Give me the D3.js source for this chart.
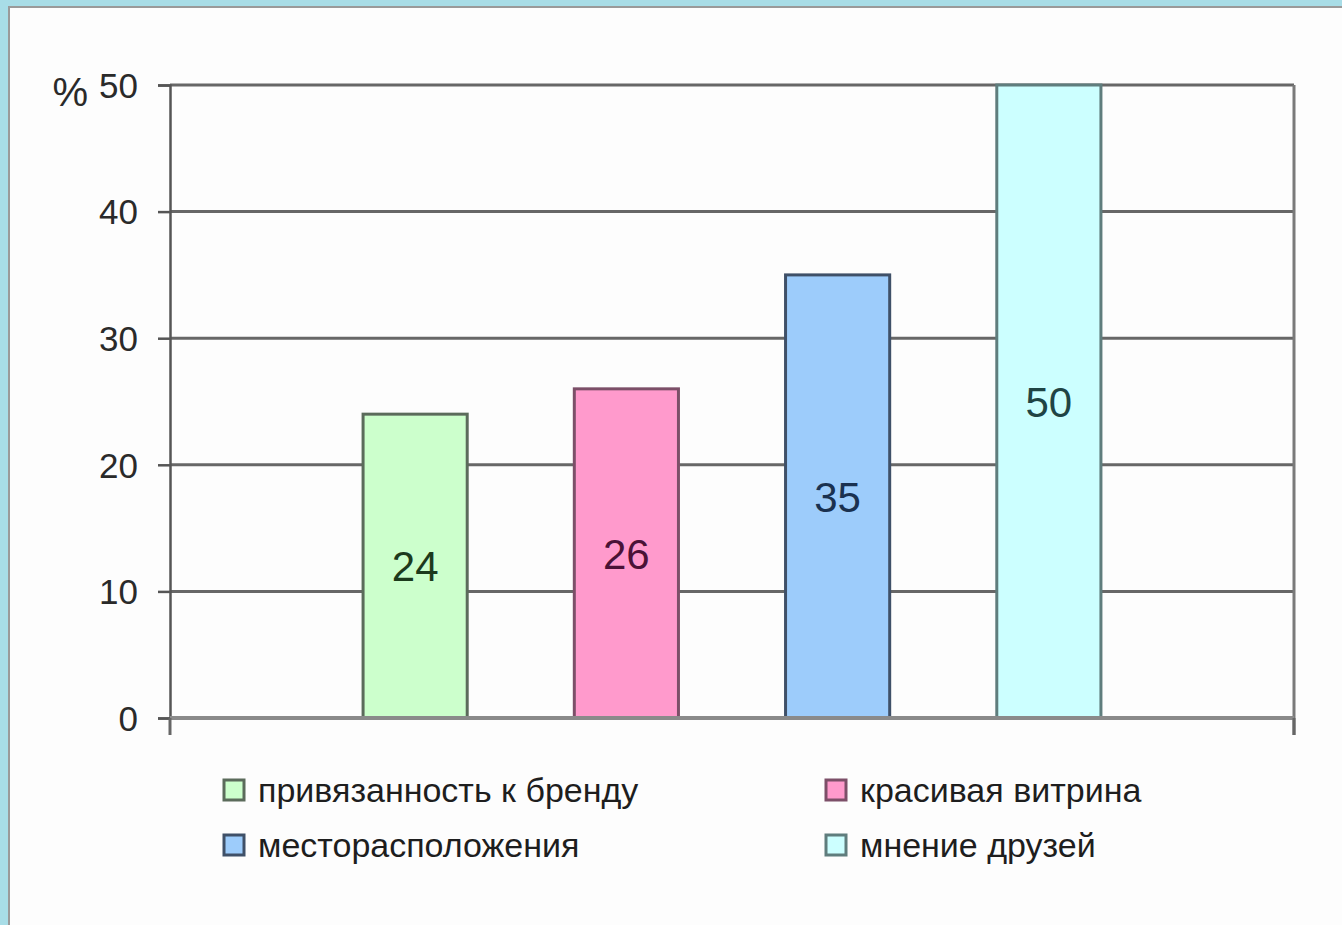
<!DOCTYPE html>
<html>
<head>
<meta charset="utf-8">
<script src="https://cdn.jsdelivr.net/npm/d3@7"></script>
<style>
  html, body { margin: 0; padding: 0; background: #a8dde7; }
  svg { display: block; }
</style>
</head>
<body>
<svg id="chart"></svg>
<script>
// values
const categories = ["привязанность к бренду", "красивая витрина", "месторасположения", "мнение друзей"];
const values = [24, 26, 35, 50];
const yTicks = [0, 10, 20, 30, 40, 50];
const yUnit = "%";

const fills = ["#ccffcc", "#ff9acc", "#9dccfb", "#ccffff"];
const strokes = ["#5b6b5b", "#7c4f68", "#3f5068", "#5f7d7d"];
const labelColors = ["#1c3a1c", "#4a1236", "#1a3150", "#1f4444"];

const W = 1342, H = 925;
const margin = {top: 85, right: 48, bottom: 207, left: 170};
const font = "Liberation Sans, Arial, sans-serif";

const svg = d3.select("#chart").attr("width", W).attr("height", H);

// blue frame + white panel
svg.append("rect").attr("width", W).attr("height", H).attr("fill", "#a8dde7");
svg.append("rect")
   .attr("x", 9).attr("y", 7)
   .attr("width", W).attr("height", H)
   .attr("fill", "#fdfdfd")
   .attr("stroke", "#9a9a9a").attr("stroke-width", 2);

const x0 = margin.left, x1 = W - margin.right;
const y = d3.scaleLinear([0, 50], [H - margin.bottom, margin.top]);
const x = d3.scaleBand(d3.range(categories.length), [x0, x1])
            .paddingInner(0.507).paddingOuter(0.914);

// gridlines
svg.append("g")
   .selectAll("line")
   .data(yTicks.filter(d => d > 0))
   .join("line")
     .attr("x1", x0).attr("x2", x1)
     .attr("y1", d => y(d)).attr("y2", d => y(d))
     .attr("stroke", "#676767").attr("stroke-width", 3);

// right frame line
svg.append("line")
   .attr("x1", x1).attr("x2", x1)
   .attr("y1", y(50)).attr("y2", y(0) + 17)
   .attr("stroke", "#7a7a7a").attr("stroke-width", 3);

// y axis
const yAxis = d3.axisLeft(y).tickValues(yTicks).tickSize(12).tickPadding(20).tickFormat(d3.format("d"));
svg.append("g")
   .attr("transform", `translate(${x0},0)`)
   .call(yAxis)
   .call(g => g.select(".domain").attr("stroke", "#555").attr("stroke-width", 2.5))
   .call(g => g.selectAll(".tick line").attr("stroke", "#555").attr("stroke-width", 2.5))
   .call(g => g.selectAll(".tick text")
               .attr("fill", "#2a2a2a")
               .attr("font-family", font)
               .attr("font-size", 35)
               .attr("dy", "0.35em"));

svg.append("text")
   .attr("x", 88).attr("y", y(50) + 21)
   .attr("text-anchor", "end")
   .attr("fill", "#2a2a2a")
   .attr("font-family", font)
   .attr("font-size", 40)
   .text(yUnit);

// bars
svg.append("g")
   .selectAll("rect")
   .data(values)
   .join("rect")
     .attr("x", (d, i) => x(i))
     .attr("y", d => y(d))
     .attr("width", x.bandwidth())
     .attr("height", d => y(0) - y(d))
     .attr("fill", (d, i) => fills[i])
     .attr("stroke", (d, i) => strokes[i])
     .attr("stroke-width", 3);

// value labels in the middle of each bar
svg.append("g")
   .selectAll("text")
   .data(values)
   .join("text")
     .attr("x", (d, i) => x(i) + x.bandwidth() / 2)
     .attr("y", d => (y(d) + y(0)) / 2)
     .attr("dy", "0.36em")
     .attr("text-anchor", "middle")
     .attr("fill", (d, i) => labelColors[i])
     .attr("font-family", font)
     .attr("font-size", 42)
     .text(d => d);

// bottom axis (one category group, ticks at its edges)
svg.append("line")
   .attr("x1", x0).attr("x2", x1)
   .attr("y1", y(0)).attr("y2", y(0))
   .attr("stroke", "#8a8a8a").attr("stroke-width", 4);
svg.append("g")
   .selectAll("line")
   .data([x0, x1])
   .join("line")
     .attr("x1", d => d).attr("x2", d => d)
     .attr("y1", y(0)).attr("y2", y(0) + 17)
     .attr("stroke", "#666").attr("stroke-width", 3);

// legend, two columns
const legend = svg.append("g")
   .selectAll("g")
   .data(categories)
   .join("g")
     .attr("transform", (d, i) => `translate(${i % 2 ? 826 : 224},${i < 2 ? 790 : 845})`);
legend.append("rect")
   .attr("x", 0).attr("y", -10)
   .attr("width", 20).attr("height", 20)
   .attr("fill", (d, i) => fills[i])
   .attr("stroke", (d, i) => strokes[i])
   .attr("stroke-width", 3);
legend.append("text")
   .attr("x", 34).attr("y", 0)
   .attr("dy", "0.35em")
   .attr("fill", "#1e1e1e")
   .attr("font-family", font)
   .attr("font-size", 34)
   .text(d => d);
</script>
</body>
</html>
